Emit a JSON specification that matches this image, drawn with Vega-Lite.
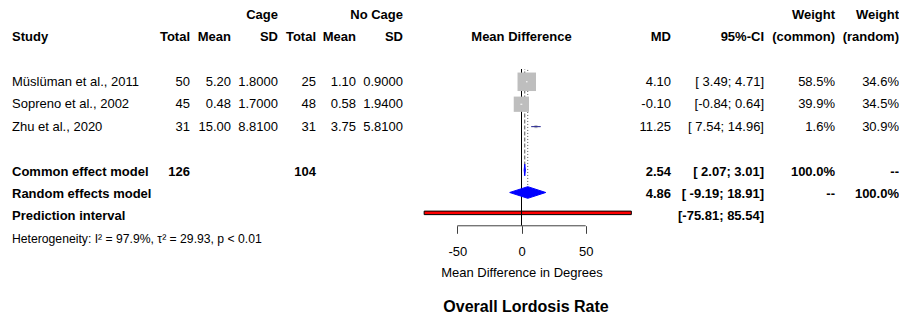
{
  "$schema": "https://vega.github.io/schema/vega-lite/v6.json",
  "padding": {"left": 12, "top": 0, "right": 0, "bottom": 0},
  "bounds": "flush",
  "spacing": 0,
  "config": {
    "view": {"stroke": null},
    "font": "Liberation Sans",
    "text": {"font": "Liberation Sans", "color": "black"},
    "title": {"font": "Liberation Sans"},
    "axis": {"labelFont": "Liberation Sans", "titleFont": "Liberation Sans"},
    "axisX": {"orient": "bottom", "offset": -92.3, "domain": false, "grid": false, "ticks": true, "tickSize": 7.6, "tickColor": "#404040", "tickWidth": 1, "labelFontSize": 13, "labelColor": "black", "labelPadding": 12, "labelFlush": false, "titleFontSize": 13, "titleFontWeight": "normal", "titleColor": "black", "titlePadding": 8}
  },
  "datasets": {
    "table": [
      {"row": 0, "section": "header", "col": "cage_sd", "text": "Cage"},
      {"row": 0, "section": "header", "col": "ctrl_sd", "text": "No Cage"},
      {"row": 0, "section": "header", "col": "w_common", "text": "Weight"},
      {"row": 0, "section": "header", "col": "w_random", "text": "Weight"},
      {"row": 1, "section": "header", "col": "study", "text": "Study"},
      {"row": 1, "section": "header", "col": "cage_n", "text": "Total"},
      {"row": 1, "section": "header", "col": "cage_mean", "text": "Mean"},
      {"row": 1, "section": "header", "col": "cage_sd", "text": "SD"},
      {"row": 1, "section": "header", "col": "ctrl_n", "text": "Total"},
      {"row": 1, "section": "header", "col": "ctrl_mean", "text": "Mean"},
      {"row": 1, "section": "header", "col": "ctrl_sd", "text": "SD"},
      {"row": 1, "section": "header", "col": "plot", "text": "Mean Difference"},
      {"row": 1, "section": "header", "col": "md", "text": "MD"},
      {"row": 1, "section": "header", "col": "ci", "text": "95%-CI"},
      {"row": 1, "section": "header", "col": "w_common", "text": "(common)"},
      {"row": 1, "section": "header", "col": "w_random", "text": "(random)"},
      {"row": 3, "section": "study", "col": "study", "text": "Müslüman et al., 2011"},
      {"row": 3, "section": "study", "col": "cage_n", "text": "50"},
      {"row": 3, "section": "study", "col": "cage_mean", "text": "5.20"},
      {"row": 3, "section": "study", "col": "cage_sd", "text": "1.8000"},
      {"row": 3, "section": "study", "col": "ctrl_n", "text": "25"},
      {"row": 3, "section": "study", "col": "ctrl_mean", "text": "1.10"},
      {"row": 3, "section": "study", "col": "ctrl_sd", "text": "0.9000"},
      {"row": 3, "section": "study", "col": "md", "text": "4.10"},
      {"row": 3, "section": "study", "col": "ci", "text": "[ 3.49;  4.71]"},
      {"row": 3, "section": "study", "col": "w_common", "text": "58.5%"},
      {"row": 3, "section": "study", "col": "w_random", "text": "34.6%"},
      {"row": 4, "section": "study", "col": "study", "text": "Sopreno et al., 2002"},
      {"row": 4, "section": "study", "col": "cage_n", "text": "45"},
      {"row": 4, "section": "study", "col": "cage_mean", "text": "0.48"},
      {"row": 4, "section": "study", "col": "cage_sd", "text": "1.7000"},
      {"row": 4, "section": "study", "col": "ctrl_n", "text": "48"},
      {"row": 4, "section": "study", "col": "ctrl_mean", "text": "0.58"},
      {"row": 4, "section": "study", "col": "ctrl_sd", "text": "1.9400"},
      {"row": 4, "section": "study", "col": "md", "text": "-0.10"},
      {"row": 4, "section": "study", "col": "ci", "text": "[-0.84;  0.64]"},
      {"row": 4, "section": "study", "col": "w_common", "text": "39.9%"},
      {"row": 4, "section": "study", "col": "w_random", "text": "34.5%"},
      {"row": 5, "section": "study", "col": "study", "text": "Zhu et al., 2020"},
      {"row": 5, "section": "study", "col": "cage_n", "text": "31"},
      {"row": 5, "section": "study", "col": "cage_mean", "text": "15.00"},
      {"row": 5, "section": "study", "col": "cage_sd", "text": "8.8100"},
      {"row": 5, "section": "study", "col": "ctrl_n", "text": "31"},
      {"row": 5, "section": "study", "col": "ctrl_mean", "text": "3.75"},
      {"row": 5, "section": "study", "col": "ctrl_sd", "text": "5.8100"},
      {"row": 5, "section": "study", "col": "md", "text": "11.25"},
      {"row": 5, "section": "study", "col": "ci", "text": "[ 7.54; 14.96]"},
      {"row": 5, "section": "study", "col": "w_common", "text": "1.6%"},
      {"row": 5, "section": "study", "col": "w_random", "text": "30.9%"},
      {"row": 7, "section": "summary", "col": "study", "text": "Common effect model"},
      {"row": 7, "section": "summary", "col": "cage_n", "text": "126"},
      {"row": 7, "section": "summary", "col": "ctrl_n", "text": "104"},
      {"row": 7, "section": "summary", "col": "md", "text": "2.54"},
      {"row": 7, "section": "summary", "col": "ci", "text": "[ 2.07;  3.01]"},
      {"row": 7, "section": "summary", "col": "w_common", "text": "100.0%"},
      {"row": 7, "section": "summary", "col": "w_random", "text": "--"},
      {"row": 8, "section": "summary", "col": "study", "text": "Random effects model"},
      {"row": 8, "section": "summary", "col": "md", "text": "4.86"},
      {"row": 8, "section": "summary", "col": "ci", "text": "[ -9.19; 18.91]"},
      {"row": 8, "section": "summary", "col": "w_common", "text": "--"},
      {"row": 8, "section": "summary", "col": "w_random", "text": "100.0%"},
      {"row": 9, "section": "summary", "col": "study", "text": "Prediction interval"},
      {"row": 9, "section": "summary", "col": "ci", "text": "[-75.81; 85.54]"},
      {"row": 10, "section": "note", "col": "study", "text": "Heterogeneity: I² = 97.9%, τ² = 29.93, p < 0.01"}
    ],
    "studies": [
      {"study": "Müslüman et al., 2011", "row": 3, "md": 4.10, "lower": 3.49, "upper": 4.71, "w_common": 58.5},
      {"study": "Sopreno et al., 2002", "row": 4, "md": -0.10, "lower": -0.84, "upper": 0.64, "w_common": 39.9},
      {"study": "Zhu et al., 2020", "row": 5, "md": 11.25, "lower": 7.54, "upper": 14.96, "w_common": 1.6}
    ],
    "summary": [
      {"model": "Common effect model", "row": 7, "lower": 2.07, "estimate": 2.54, "upper": 3.01},
      {"model": "Random effects model", "row": 8, "lower": -9.19, "estimate": 4.86, "upper": 18.91}
    ],
    "prediction": [
      {"interval": "Prediction interval", "row": 9, "lower": -75.81, "upper": 85.54}
    ],
    "diamond": [
      {"vertex": "lower", "top": 0, "bottom": 0},
      {"vertex": "estimate", "top": -0.26, "bottom": 0.26},
      {"vertex": "upper", "top": 0, "bottom": 0}
    ]
  },
  "hconcat": [
    {
      "width": 148, "height": 318,
      "data": {"name": "table"},
      "transform": [{"filter": "datum.col == 'study'"}],
      "mark": {"type": "text", "align": "left", "baseline": "middle",
        "fontSize": {"expr": "datum.section == 'note' ? 12.2 : 13"},
        "fontWeight": {"expr": "datum.section == 'study' || datum.section == 'note' ? 'normal' : 'bold'"}},
      "encoding": {
        "x": {"value": 0},
        "y": {"field": "row", "type": "quantitative", "scale": {"domain": [-0.6465, 13.531], "nice": false, "zero": false, "reverse": true}, "axis": null},
        "text": {"field": "text"}
      }
    },
    {
      "width": 30, "height": 318,
      "data": {"name": "table"},
      "transform": [{"filter": "datum.col == 'cage_n'"}],
      "mark": {"type": "text", "align": "right", "baseline": "middle", "fontSize": 13,
        "fontWeight": {"expr": "datum.section == 'study' ? 'normal' : 'bold'"}},
      "encoding": {
        "x": {"value": "width"},
        "y": {"field": "row", "type": "quantitative", "scale": {"domain": [-0.6465, 13.531], "nice": false, "zero": false, "reverse": true}, "axis": null},
        "text": {"field": "text"}
      }
    },
    {
      "width": 41, "height": 318,
      "data": {"name": "table"},
      "transform": [{"filter": "datum.col == 'cage_mean'"}],
      "mark": {"type": "text", "align": "right", "baseline": "middle", "fontSize": 13,
        "fontWeight": {"expr": "datum.section == 'study' ? 'normal' : 'bold'"}},
      "encoding": {
        "x": {"value": "width"},
        "y": {"field": "row", "type": "quantitative", "scale": {"domain": [-0.6465, 13.531], "nice": false, "zero": false, "reverse": true}, "axis": null},
        "text": {"field": "text"}
      }
    },
    {
      "width": 47, "height": 318,
      "data": {"name": "table"},
      "transform": [{"filter": "datum.col == 'cage_sd'"}],
      "mark": {"type": "text", "align": "right", "baseline": "middle", "fontSize": 13,
        "fontWeight": {"expr": "datum.section == 'study' ? 'normal' : 'bold'"}},
      "encoding": {
        "x": {"value": "width"},
        "y": {"field": "row", "type": "quantitative", "scale": {"domain": [-0.6465, 13.531], "nice": false, "zero": false, "reverse": true}, "axis": null},
        "text": {"field": "text"}
      }
    },
    {
      "width": 38, "height": 318,
      "data": {"name": "table"},
      "transform": [{"filter": "datum.col == 'ctrl_n'"}],
      "mark": {"type": "text", "align": "right", "baseline": "middle", "fontSize": 13,
        "fontWeight": {"expr": "datum.section == 'study' ? 'normal' : 'bold'"}},
      "encoding": {
        "x": {"value": "width"},
        "y": {"field": "row", "type": "quantitative", "scale": {"domain": [-0.6465, 13.531], "nice": false, "zero": false, "reverse": true}, "axis": null},
        "text": {"field": "text"}
      }
    },
    {
      "width": 40, "height": 318,
      "data": {"name": "table"},
      "transform": [{"filter": "datum.col == 'ctrl_mean'"}],
      "mark": {"type": "text", "align": "right", "baseline": "middle", "fontSize": 13,
        "fontWeight": {"expr": "datum.section == 'study' ? 'normal' : 'bold'"}},
      "encoding": {
        "x": {"value": "width"},
        "y": {"field": "row", "type": "quantitative", "scale": {"domain": [-0.6465, 13.531], "nice": false, "zero": false, "reverse": true}, "axis": null},
        "text": {"field": "text"}
      }
    },
    {
      "width": 47, "height": 318,
      "data": {"name": "table"},
      "transform": [{"filter": "datum.col == 'ctrl_sd'"}],
      "mark": {"type": "text", "align": "right", "baseline": "middle", "fontSize": 13,
        "fontWeight": {"expr": "datum.section == 'study' ? 'normal' : 'bold'"}},
      "encoding": {
        "x": {"value": "width"},
        "y": {"field": "row", "type": "quantitative", "scale": {"domain": [-0.6465, 13.531], "nice": false, "zero": false, "reverse": true}, "axis": null},
        "text": {"field": "text"}
      }
    },
    {
      "width": 237, "height": 318,
      "title": {"text": "Overall Lordosis Rate", "orient": "bottom", "anchor": "middle", "offset": -19, "dx": 4.5, "fontSize": 16, "fontWeight": "bold", "color": "black"},
      "resolve": {"scale": {"y": "independent"}},
      "layer": [
        {
          "data": {"name": "prediction"},
          "mark": {"type": "bar", "height": 3.5, "fill": "red", "stroke": "black", "strokeWidth": 1, "yOffset": -1.7},
          "encoding": {
            "x": {"field": "lower", "type": "quantitative", "scale": {"domain": [-92.29, 92.29], "nice": false, "zero": false},
              "axis": {"values": [-50, 0, 50], "labelExpr": "'' + datum.value", "title": "Mean Difference in Degrees"}},
            "x2": {"field": "upper"},
            "y": {"field": "row", "type": "quantitative", "scale": {"domain": [-0.6465, 13.531], "nice": false, "zero": false, "reverse": true}, "axis": null}
          }
        },
        {
          "data": {"values": [{"reference": "no effect", "md": 0, "from_row": 2.43, "to_row": 9.42}]},
          "mark": {"type": "rule", "color": "black", "strokeWidth": 1},
          "encoding": {
            "x": {"field": "md", "type": "quantitative", "scale": {"domain": [-92.29, 92.29], "nice": false, "zero": false},
              "axis": {"values": [-50, 0, 50], "labelExpr": "'' + datum.value", "title": "Mean Difference in Degrees"}},
            "y": {"field": "from_row", "type": "quantitative", "scale": {"domain": [-0.6465, 13.531], "nice": false, "zero": false, "reverse": true}, "axis": null},
            "y2": {"field": "to_row"}
          }
        },
        {
          "data": {"name": "summary"},
          "mark": {"type": "rule", "color": "#555555", "strokeWidth": 1, "yOffset": -6},
          "encoding": {
            "x": {"field": "estimate", "type": "quantitative", "scale": {"domain": [-92.29, 92.29], "nice": false, "zero": false},
              "axis": {"values": [-50, 0, 50], "labelExpr": "'' + datum.value", "title": "Mean Difference in Degrees"}},
            "y": {"field": "row", "type": "quantitative", "scale": {"domain": [-0.6465, 13.531], "nice": false, "zero": false, "reverse": true}, "axis": null},
            "y2": {"datum": 2.43},
            "strokeDash": {"field": "model", "type": "nominal", "scale": {"domain": ["Common effect model", "Random effects model"], "range": [[4, 2], [1, 2]]}, "legend": null}
          }
        },
        {
          "data": {"values": [{"from": -50, "to": 50, "row": 9.42}]},
          "mark": {"type": "rule", "color": "#404040", "strokeWidth": 1},
          "encoding": {
            "x": {"field": "from", "type": "quantitative", "scale": {"domain": [-92.29, 92.29], "nice": false, "zero": false},
              "axis": {"values": [-50, 0, 50], "labelExpr": "'' + datum.value", "title": "Mean Difference in Degrees"}},
            "x2": {"field": "to"},
            "y": {"field": "row", "type": "quantitative", "scale": {"domain": [-0.6465, 13.531], "nice": false, "zero": false, "reverse": true}, "axis": null}
          }
        },
        {
          "data": {"name": "studies"},
          "mark": {"type": "square", "color": "#bebebe", "opacity": 1},
          "encoding": {
            "x": {"field": "md", "type": "quantitative", "scale": {"domain": [-92.29, 92.29], "nice": false, "zero": false},
              "axis": {"values": [-50, 0, 50], "labelExpr": "'' + datum.value", "title": "Mean Difference in Degrees"}},
            "y": {"field": "row", "type": "quantitative", "scale": {"domain": [-0.6465, 13.531], "nice": false, "zero": false, "reverse": true}, "axis": null},
            "size": {"field": "w_common", "type": "quantitative", "scale": {"domain": [0, 58.5], "range": [0, 342]}, "legend": null}
          }
        },
        {
          "data": {"name": "studies"},
          "mark": {"type": "rule", "strokeWidth": 1},
          "encoding": {
            "x": {"field": "lower", "type": "quantitative", "scale": {"domain": [-92.29, 92.29], "nice": false, "zero": false},
              "axis": {"values": [-50, 0, 50], "labelExpr": "'' + datum.value", "title": "Mean Difference in Degrees"}},
            "x2": {"field": "upper"},
            "y": {"field": "row", "type": "quantitative", "scale": {"domain": [-0.6465, 13.531], "nice": false, "zero": false, "reverse": true}, "axis": null},
            "color": {"condition": {"test": "datum.w_common > 10", "value": "white"}, "value": "#1f1f8f"}
          }
        },
        {
          "data": {"name": "summary"},
          "transform": [
            {"filter": "datum.model == 'Common effect model'"},
            {"fold": ["lower", "estimate", "upper"], "as": ["vertex", "md"]},
            {"lookup": "vertex", "from": {"data": {"name": "diamond"}, "key": "vertex", "fields": ["top", "bottom"]}}
          ],
          "mark": {"type": "area", "fill": "blue", "stroke": "blue", "strokeWidth": 1, "opacity": 1},
          "encoding": {
            "x": {"field": "md", "type": "quantitative", "scale": {"domain": [-92.29, 92.29], "nice": false, "zero": false},
              "axis": {"values": [-50, 0, 50], "labelExpr": "'' + datum.value", "title": "Mean Difference in Degrees"}},
            "y": {"field": "top", "type": "quantitative", "scale": {"domain": [-7.579, 6.598], "nice": false, "zero": false, "reverse": true}, "axis": null},
            "y2": {"field": "bottom"}
          }
        },
        {
          "data": {"name": "summary"},
          "transform": [
            {"filter": "datum.model == 'Random effects model'"},
            {"fold": ["lower", "estimate", "upper"], "as": ["vertex", "md"]},
            {"lookup": "vertex", "from": {"data": {"name": "diamond"}, "key": "vertex", "fields": ["top", "bottom"]}}
          ],
          "mark": {"type": "area", "fill": "blue", "stroke": "blue", "strokeWidth": 1, "opacity": 1},
          "encoding": {
            "x": {"field": "md", "type": "quantitative", "scale": {"domain": [-92.29, 92.29], "nice": false, "zero": false},
              "axis": {"values": [-50, 0, 50], "labelExpr": "'' + datum.value", "title": "Mean Difference in Degrees"}},
            "y": {"field": "top", "type": "quantitative", "scale": {"domain": [-8.582, 5.5955], "nice": false, "zero": false, "reverse": true}, "axis": null},
            "y2": {"field": "bottom"}
          }
        },
        {
          "data": {"name": "table"},
          "transform": [{"filter": "datum.col == 'plot'"}],
          "mark": {"type": "text", "align": "center", "baseline": "middle", "fontSize": 13, "fontWeight": "bold"},
          "encoding": {
            "x": {"datum": 0, "type": "quantitative", "scale": {"domain": [-92.29, 92.29], "nice": false, "zero": false},
              "axis": {"values": [-50, 0, 50], "labelExpr": "'' + datum.value", "title": "Mean Difference in Degrees"}},
            "y": {"field": "row", "type": "quantitative", "scale": {"domain": [-0.6465, 13.531], "nice": false, "zero": false, "reverse": true}, "axis": null},
            "text": {"field": "text"}
          }
        }
      ]
    },
    {
      "width": 31, "height": 318,
      "data": {"name": "table"},
      "transform": [{"filter": "datum.col == 'md'"}],
      "mark": {"type": "text", "align": "right", "baseline": "middle", "fontSize": 13,
        "fontWeight": {"expr": "datum.section == 'study' ? 'normal' : 'bold'"}},
      "encoding": {
        "x": {"value": "width"},
        "y": {"field": "row", "type": "quantitative", "scale": {"domain": [-0.6465, 13.531], "nice": false, "zero": false, "reverse": true}, "axis": null},
        "text": {"field": "text"}
      }
    },
    {
      "width": 93, "height": 318,
      "data": {"name": "table"},
      "transform": [{"filter": "datum.col == 'ci'"}],
      "mark": {"type": "text", "align": "right", "baseline": "middle", "fontSize": 13,
        "fontWeight": {"expr": "datum.section == 'study' ? 'normal' : 'bold'"}},
      "encoding": {
        "x": {"value": "width"},
        "y": {"field": "row", "type": "quantitative", "scale": {"domain": [-0.6465, 13.531], "nice": false, "zero": false, "reverse": true}, "axis": null},
        "text": {"field": "text"}
      }
    },
    {
      "width": 71, "height": 318,
      "data": {"name": "table"},
      "transform": [{"filter": "datum.col == 'w_common'"}],
      "mark": {"type": "text", "align": "right", "baseline": "middle", "fontSize": 13,
        "fontWeight": {"expr": "datum.section == 'study' ? 'normal' : 'bold'"}},
      "encoding": {
        "x": {"value": "width"},
        "y": {"field": "row", "type": "quantitative", "scale": {"domain": [-0.6465, 13.531], "nice": false, "zero": false, "reverse": true}, "axis": null},
        "text": {"field": "text"}
      }
    },
    {
      "width": 64, "height": 318,
      "data": {"name": "table"},
      "transform": [{"filter": "datum.col == 'w_random'"}],
      "mark": {"type": "text", "align": "right", "baseline": "middle", "fontSize": 13,
        "fontWeight": {"expr": "datum.section == 'study' ? 'normal' : 'bold'"}},
      "encoding": {
        "x": {"value": "width"},
        "y": {"field": "row", "type": "quantitative", "scale": {"domain": [-0.6465, 13.531], "nice": false, "zero": false, "reverse": true}, "axis": null},
        "text": {"field": "text"}
      }
    }
  ]
}
